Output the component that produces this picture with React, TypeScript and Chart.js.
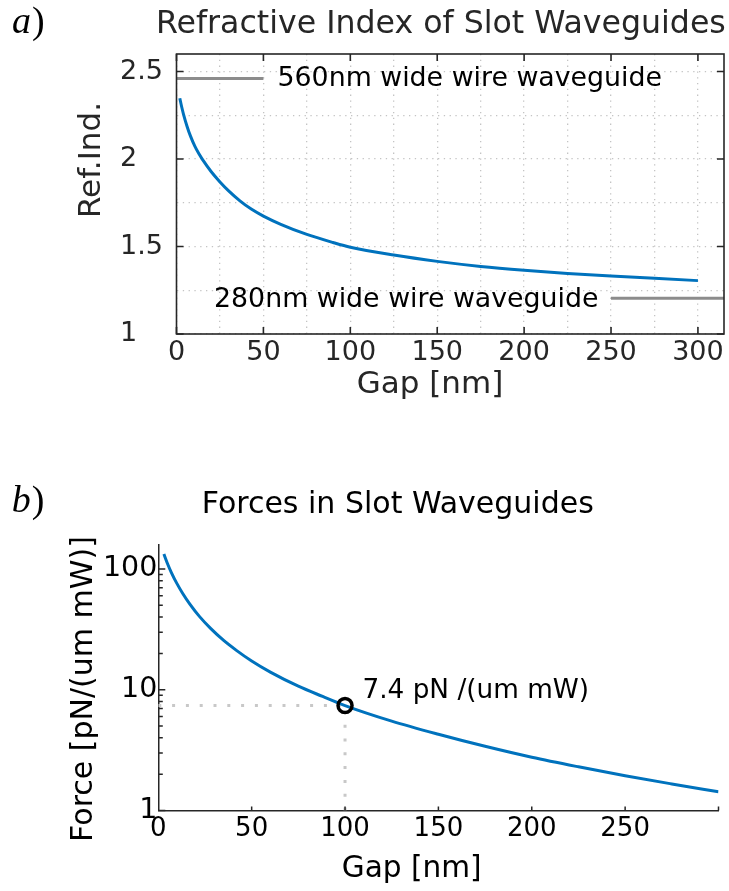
import React, { useEffect, useRef } from 'react';
import { Chart, registerables } from 'chart.js';

Chart.register(...registerables);

// ---------- Panel a) Refractive index of slot waveguides ----------
const refGapNm = [1.9, 3, 4, 6, 8, 10.6, 13, 15, 20, 25, 30, 36.5, 43, 50, 60, 75, 90, 100, 125, 150, 175, 200, 225, 250, 275, 300];
const refIndex = [2.347, 2.297, 2.257, 2.189, 2.132, 2.072, 2.028, 1.996, 1.927, 1.869, 1.818, 1.761, 1.714, 1.674, 1.627, 1.569, 1.523, 1.496, 1.451, 1.415, 1.386, 1.364, 1.346, 1.331, 1.318, 1.305];
const wire560Gap = [0, 50];
const wire560Index = [2.46, 2.46];
const wire280Gap = [250, 315];
const wire280Index = [1.205, 1.205];
const refXGrid = [0, 25, 50, 75, 100, 125, 150, 175, 200, 225, 250, 275, 300];
const refXLabels = [0, 50, 100, 150, 200, 250, 300];
const refYGrid = [1, 1.25, 1.5, 1.75, 2, 2.25, 2.5];
const refYLabels = [1, 1.5, 2, 2.5];

// ---------- Panel b) Forces in slot waveguides ----------
const forceGapNm = [3, 5, 7, 10, 13, 17, 22, 28, 35, 42, 50, 60, 75, 88, 100, 125, 150, 175, 200, 225, 250, 275, 300];
const forcePN = [133, 110, 93.5, 75.6, 63, 50.9, 40.5, 32.2, 25.6, 21.1, 17.3, 14.0, 10.7, 8.8, 7.4, 5.5, 4.28, 3.4, 2.76, 2.3, 1.94, 1.66, 1.43];
const markGap = [100];
const markForce = [7.4];
const guideHGap = [0, 100];
const guideHForce = [7.4, 7.4];
const guideVGap = [100, 100];
const guideVForce = [1, 7.4];
const forceXTicks = [0, 50, 100, 150, 200, 250, 300];
const forceXLabels = [0, 50, 100, 150, 200, 250];
const forceYTicks = [1, 2, 3, 4, 5, 6, 7, 8, 9, 10, 20, 30, 40, 50, 60, 70, 80, 90, 100];
const forceYLabels = [1, 10, 100];

const FAM = '"DejaVu Sans", sans-serif';
const SERIF = '"Liberation Serif", "DejaVu Serif", serif';
const AX = '#262626';
const BLUE = '#0072BD';

const pts = (xs: number[], ys: number[]) => xs.map((x, i) => ({ x, y: ys[i] }));

function panelLabel(ctx: CanvasRenderingContext2D, letter: string, x: number, y: number) {
  ctx.save();
  ctx.font = `italic 38px ${SERIF}`;
  ctx.fillStyle = '#000';
  ctx.textAlign = 'left';
  ctx.textBaseline = 'alphabetic';
  ctx.fillText(letter, x, y);
  const w = ctx.measureText(letter).width;
  ctx.font = `38px ${SERIF}`;
  ctx.fillText(')', x + w + 1, y);
  ctx.restore();
}

function text(ctx: CanvasRenderingContext2D, s: string, x: number, y: number, size: number, color: string, align: CanvasTextAlign = 'left', rot = 0) {
  ctx.save();
  ctx.font = `${size}px ${FAM}`;
  ctx.fillStyle = color;
  ctx.textAlign = align;
  ctx.textBaseline = 'alphabetic';
  ctx.translate(x, y);
  if (rot) ctx.rotate(rot);
  ctx.fillText(s, 0, 0);
  ctx.restore();
}

const topDecor = {
  id: 'topDecor',
  afterDraw(chart: any) {
    const { ctx, chartArea: a, scales } = chart;
    const xs = scales.x, ys = scales.y;
    ctx.save();
    ctx.strokeStyle = AX;
    ctx.lineWidth = 1.6;
    ctx.beginPath();
    refXLabels.forEach((v) => {
      const p = xs.getPixelForValue(v);
      ctx.moveTo(p, a.bottom); ctx.lineTo(p, a.bottom - 7);
      ctx.moveTo(p, a.top); ctx.lineTo(p, a.top + 7);
    });
    refYLabels.forEach((v) => {
      const p = ys.getPixelForValue(v);
      ctx.moveTo(a.left, p); ctx.lineTo(a.left + 7, p);
      ctx.moveTo(a.right, p); ctx.lineTo(a.right - 7, p);
    });
    ctx.stroke();
    ctx.strokeRect(a.left, a.top, a.right - a.left, a.bottom - a.top);
    ctx.restore();

    panelLabel(ctx, 'a', 12, 32.5);
    text(ctx, 'Refractive Index of Slot Waveguides', 156, 33.3, 31.6, AX);
    text(ctx, 'Ref.Ind.', 100, 160, 31, AX, 'center', -Math.PI / 2);
    text(ctx, 'Gap [nm]', 430, 393, 31, AX, 'center');
    text(ctx, '560nm wide wire waveguide', 277.5, 86, 26.8, '#000');
    text(ctx, '280nm wide wire waveguide', 214, 306.7, 26.8, '#000');
  },
};

const bottomDecor = {
  id: 'bottomDecor',
  afterDraw(chart: any) {
    const { ctx, chartArea: a, scales } = chart;
    const xs = scales.x, ys = scales.y;
    ctx.save();
    ctx.strokeStyle = AX;
    ctx.lineWidth = 1.5;
    ctx.beginPath();
    forceXTicks.forEach((v) => {
      if (v === 0) return;
      const p = xs.getPixelForValue(v);
      ctx.moveTo(p, a.bottom); ctx.lineTo(p, a.bottom - 4);
    });
    forceYTicks.forEach((v) => {
      const p = ys.getPixelForValue(v);
      const len = forceYLabels.includes(v) ? 7 : 4.5;
      ctx.moveTo(a.left, p); ctx.lineTo(a.left + len, p);
    });
    ctx.stroke();
    ctx.restore();

    panelLabel(ctx, 'b', 11.7, 91.7);
    text(ctx, 'Forces in Slot Waveguides', 201.7, 93.3, 30, '#000');
    text(ctx, 'Force [pN/(um mW)]', 92, 269, 30, '#000', 'center', -Math.PI / 2);
    text(ctx, 'Gap [nm]', 411.7, 457.3, 29.6, '#000', 'center');
    text(ctx, '7.4 pN /(um mW)', 362.5, 278.3, 26.3, '#000');
  },
};

export default function App() {
  const topRef = useRef<HTMLCanvasElement>(null);
  const botRef = useRef<HTMLCanvasElement>(null);

  useEffect(() => {
    const top = new Chart(topRef.current as HTMLCanvasElement, {
      type: 'line',
      data: {
        datasets: [
          { data: pts(refGapNm, refIndex), borderColor: BLUE, borderWidth: 3, pointRadius: 0, cubicInterpolationMode: 'monotone', fill: false },
          { data: pts(wire560Gap, wire560Index), borderColor: '#8c8c8c', borderWidth: 3, pointRadius: 0, fill: false },
          { data: pts(wire280Gap, wire280Index), borderColor: '#8c8c8c', borderWidth: 3, pointRadius: 0, fill: false },
        ],
      },
      options: {
        animation: false,
        responsive: false,
        events: [],
        layout: { padding: { left: 120, top: 54, right: 5, bottom: 0 } },
        plugins: { legend: { display: false }, tooltip: { enabled: false }, title: { display: false } },
        scales: {
          x: {
            type: 'linear',
            min: 0,
            max: 315,
            afterBuildTicks: (s: any) => { s.ticks = refXGrid.map((v) => ({ value: v })); },
            afterFit: (s: any) => { s.height = 86; },
            ticks: {
              autoSkip: false, maxRotation: 0, minRotation: 0, padding: 3, color: AX,
              font: { family: FAM, size: 27 },
              callback: (v: any) => (refXLabels.includes(Number(v)) ? String(v) : ''),
            },
            grid: { color: '#c4c4c4', lineWidth: 1.3, drawTicks: false },
            border: { display: false, dash: [1.3, 4.5] },
          },
          y: {
            type: 'linear',
            min: 1,
            max: 2.6,
            afterBuildTicks: (s: any) => { s.ticks = refYGrid.map((v) => ({ value: v })); },
            afterFit: (s: any) => { s.width = 56.5; },
            ticks: {
              autoSkip: false, padding: 0, crossAlign: 'far', color: AX,
              font: { family: FAM, size: 27 },
              callback: (v: any) => (refYLabels.includes(Number(v)) ? String(v) : ''),
            },
            grid: { color: '#c4c4c4', lineWidth: 1.3, drawTicks: false },
            border: { display: false, dash: [1.3, 4.5] },
          },
        },
      },
      plugins: [topDecor],
    } as any);

    const bot = new Chart(botRef.current as HTMLCanvasElement, {
      type: 'line',
      data: {
        datasets: [
          { data: pts(markGap, markForce), showLine: false, pointRadius: 7, pointBorderWidth: 3.5, pointBorderColor: '#000', pointBackgroundColor: 'rgba(0,0,0,0)', borderColor: '#000' },
          { data: pts(forceGapNm, forcePN), borderColor: BLUE, borderWidth: 3, pointRadius: 0, cubicInterpolationMode: 'monotone', fill: false },
          { data: pts(guideHGap, guideHForce), borderColor: '#c8c8c8', borderWidth: 3, borderDash: [3, 10.8], pointRadius: 0, fill: false },
          { data: pts(guideVGap, guideVForce), borderColor: '#c8c8c8', borderWidth: 3, borderDash: [3, 10.8], pointRadius: 0, fill: false },
        ],
      },
      options: {
        animation: false,
        responsive: false,
        events: [],
        layout: { padding: { left: 90, top: 125, right: 10, bottom: 0 } },
        plugins: { legend: { display: false }, tooltip: { enabled: false }, title: { display: false } },
        scales: {
          x: {
            type: 'linear',
            min: 0,
            max: 300,
            afterBuildTicks: (s: any) => { s.ticks = forceXTicks.map((v) => ({ value: v })); },
            afterFit: (s: any) => { s.height = 80.5; },
            ticks: {
              autoSkip: false, maxRotation: 0, minRotation: 0, padding: 3, color: '#000',
              font: { family: FAM, size: 26 },
              callback: (v: any) => (forceXLabels.includes(Number(v)) ? String(v) : ''),
            },
            grid: { display: false, drawTicks: false },
            border: { display: true, color: AX, width: 1.5 },
          },
          y: {
            type: 'logarithmic',
            min: 1,
            max: 158,
            afterBuildTicks: (s: any) => { s.ticks = forceYTicks.map((v) => ({ value: v })); },
            afterFit: (s: any) => { s.width = 68.3; },
            ticks: {
              autoSkip: false, padding: 1, color: '#000',
              font: { family: FAM, size: 28.5 },
              callback: (v: any) => (forceYLabels.includes(Number(v)) ? String(v) : ''),
            },
            grid: { display: false, drawTicks: false },
            border: { display: true, color: AX, width: 1.5 },
          },
        },
      },
      plugins: [bottomDecor],
    } as any);

    return () => {
      top.destroy();
      bot.destroy();
    };
  }, []);

  return (
    <div style={{ position: 'absolute', left: 0, top: 0, width: 729, height: 891, background: '#fff' }}>
      <canvas ref={topRef} width={729} height={420} style={{ position: 'absolute', left: 0, top: 0 }} />
      <canvas ref={botRef} width={729} height={471} style={{ position: 'absolute', left: 0, top: 420 }} />
    </div>
  );
}
